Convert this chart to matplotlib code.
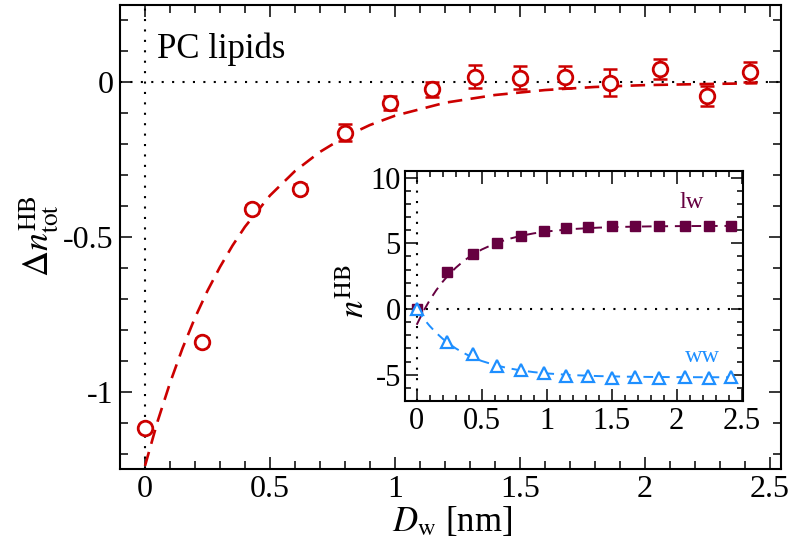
import matplotlib
matplotlib.use("Agg")
import matplotlib.pyplot as plt
from matplotlib.ticker import MultipleLocator

plt.rcParams['font.family'] = ['Liberation Serif', 'DejaVu Serif']
plt.rcParams['mathtext.fontset'] = 'stix'
plt.rcParams['axes.unicode_minus'] = False

# ---- data ----
dw = [0.0, 0.23, 0.43, 0.62, 0.80, 0.98, 1.15, 1.32, 1.50, 1.68, 1.86, 2.06, 2.25, 2.42]
dn_tot = [-1.118, -0.84, -0.409, -0.344, -0.163, -0.066, -0.023, 0.018, 0.015, 0.018,
          -0.001, 0.042, -0.044, 0.033]
dn_err = [0.01, 0.012, 0.012, 0.015, 0.027, 0.022, 0.024, 0.037, 0.038, 0.036,
          0.044, 0.032, 0.033, 0.032]

# dashed fit curve of the main panel
fit_x = [0.0, 0.05, 0.1, 0.15, 0.2, 0.25, 0.3, 0.35, 0.4, 0.5, 0.6, 0.7, 0.8, 0.9,
         1.0, 1.2, 1.4, 1.6, 1.8, 2.0, 2.2, 2.45]
fit_tot = [-1.240, -1.097, -0.972, -0.860, -0.761, -0.674, -0.597, -0.528, -0.467,
           -0.366, -0.287, -0.225, -0.176, -0.138, -0.108, -0.066, -0.041, -0.025,
           -0.015, -0.009, -0.006, -0.003]

# inset
n_lw = [0.0, 2.85, 4.17, 5.05, 5.55, 5.95, 6.18, 6.26, 6.33, 6.31, 6.33, 6.33, 6.33, 6.33]
n_ww = [0.0, -2.5, -3.45, -4.35, -4.65, -4.87, -5.08, -5.12, -5.22, -5.17, -5.23,
        -5.17, -5.28, -5.17]
fit_ix = [0.0, 0.05, 0.1, 0.15, 0.2, 0.25, 0.3, 0.35, 0.4, 0.5, 0.6, 0.7, 0.8, 0.9,
          1.0, 1.2, 1.4, 1.6, 1.8, 2.0, 2.2, 2.42]
fit_lw = [-1.20, -0.198, 0.671, 1.425, 2.078, 2.644, 3.134, 3.560, 3.929, 4.525, 4.974,
          5.311, 5.564, 5.755, 5.898, 6.086, 6.192, 6.252, 6.286, 6.305, 6.316, 6.323]
fit_ww = [0.0, -0.692, -1.292, -1.813, -2.264, -2.655, -2.993, -3.287, -3.542, -3.954,
          -4.263, -4.496, -4.671, -4.803, -4.901, -5.031, -5.105, -5.146, -5.170,
          -5.183, -5.191, -5.195]

main_xticks = [0, 0.5, 1, 1.5, 2, 2.5]
main_xticklabels = ['0', '0.5', '1', '1.5', '2', '2.5']
main_yticks = [-1, -0.5, 0]
main_yticklabels = ['-1', '-0.5', '0']
inset_yticks = [-5, 0, 5, 10]
inset_yticklabels = ['-5', '0', '5', '10']

RED = '#cc0000'
PURPLE = '#660040'
BLUE = '#1e8fff'

W, H = 792, 545
fig = plt.figure(figsize=(W / 100, H / 100), dpi=100)


def frac_axes(l, t, r, b):
    return fig.add_axes([l / W, 1 - b / H, (r - l) / W, (b - t) / H])


def style(ax, major_len, minor_len, size, xpad, ypad):
    for s in ax.spines.values():
        s.set_linewidth(1.5)
    ax.tick_params(which='both', direction='in', top=True, right=True, width=1.1)
    ax.tick_params(which='major', length=major_len, labelsize=size)
    ax.tick_params(which='minor', length=minor_len)
    ax.tick_params(axis='x', which='major', pad=xpad)
    ax.tick_params(axis='y', which='major', pad=ypad)


# ---- main panel ----
ax = frac_axes(120, 5, 781, 469)
ax.set_xlim(-0.1, 2.545)
ax.set_ylim(-1.25, 0.25)
dot = (0, (1, 4))
ax.axhline(0, color='black', lw=1.5, ls=dot, zorder=1)
ax.axvline(0, color='black', lw=1.5, ls=dot, zorder=1)
ax.plot(fit_x, fit_tot, color=RED, lw=1.9, dashes=(5.5, 3.2), zorder=2)
ax.errorbar(dw, dn_tot, yerr=dn_err, fmt='none', ecolor=RED, elinewidth=1.6,
            capsize=5, capthick=1.8, zorder=3)
ax.plot(dw, dn_tot, ls='none', marker='o', mfc='white', mec=RED, ms=10.5, mew=2,
        zorder=4)
ax.set_xticks(main_xticks)
ax.set_xticklabels(main_xticklabels)
ax.set_yticks(main_yticks)
ax.set_yticklabels(main_yticklabels)
ax.xaxis.set_minor_locator(MultipleLocator(0.1))
ax.yaxis.set_minor_locator(MultipleLocator(0.1))
style(ax, 8.5, 5.5, 23, 4, 4.5)
ax.text(0.05, 0.08, 'PC lipids', fontsize=25, ha='left', va='baseline')

fig.text(452 / W, 1 - 522 / H, r'$D_{\mathrm{w}}$ [nm]', fontsize=25,
         ha='center', va='center')
fig.text(39 / W, 1 - 236 / H, r'$\Delta n^{\mathrm{HB}}_{\mathrm{tot}}$', fontsize=26,
         ha='center', va='center', rotation=90)

# ---- inset ----
ai = frac_axes(405, 171, 743, 401)
ai.set_xlim(-0.09, 2.51)
ai.set_ylim(-7, 10.5)
ai.axhline(0, color='black', lw=1.5, ls=dot, zorder=1)
ai.axvline(0, color='black', lw=1.5, ls=dot, zorder=1)
ai.plot(fit_ix, fit_lw, color=PURPLE, lw=1.4, dashes=(5, 3.5), zorder=2)
ai.plot(fit_ix, fit_ww, color=BLUE, lw=1.4, dashes=(5, 3.5), zorder=2)
ai.plot(dw, n_lw, ls='none', marker='s', ms=7.5, color=PURPLE, zorder=3)
ai.plot(dw, n_ww, ls='none', marker='^', ms=9, mfc='white', mec=BLUE, mew=1.6, zorder=4)
ai.set_xticks(main_xticks)
ai.set_xticklabels(main_xticklabels)
ai.set_yticks(inset_yticks)
ai.set_yticklabels(inset_yticklabels)
ai.xaxis.set_minor_locator(MultipleLocator(0.1))
ai.yaxis.set_minor_locator(MultipleLocator(1))
style(ai, 9, 4.5, 22, 4, 3)
ai.text(2.02, 7.65, 'lw', color=PURPLE, fontsize=17.5, ha='left', va='baseline')
ai.text(2.06, -4.05, 'ww', color=BLUE, fontsize=17.5, ha='left', va='baseline')

fig.text(355 / W, 1 - 291 / H, r'$n^{\mathrm{HB}}$', fontsize=25,
         ha='center', va='center', rotation=90)

fig.savefig('out.png', dpi=100)
